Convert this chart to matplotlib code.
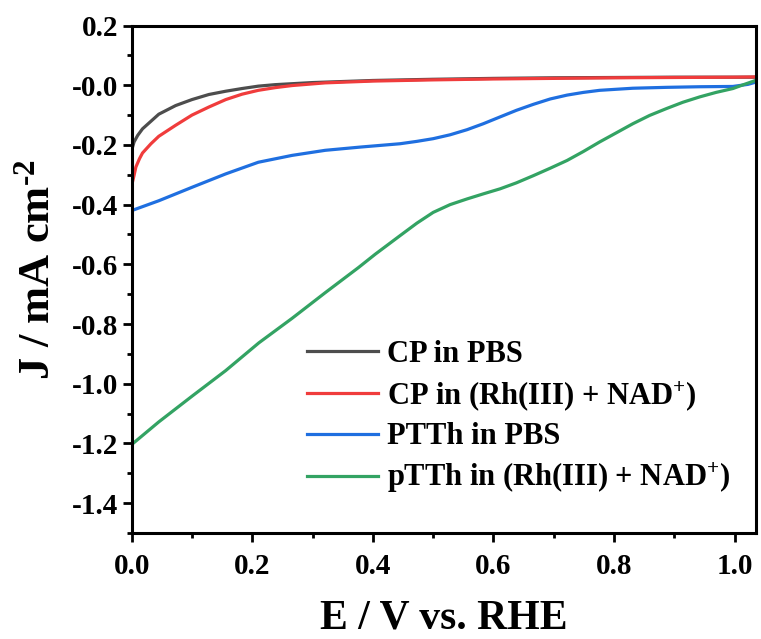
import numpy as np
import matplotlib.pyplot as plt

# LSV curves (E in V vs. RHE, J in mA cm^-2)
cp_pbs_E = [0, 0.004, 0.01, 0.018, 0.045, 0.073, 0.10, 0.128, 0.156, 0.183, 0.21, 0.238,
            0.30, 0.40, 0.50, 0.60, 0.70, 0.80, 0.90, 1.0, 1.036]
cp_pbs_J = [-0.218, -0.19, -0.168, -0.146, -0.097, -0.068, -0.048, -0.031, -0.02, -0.011, -0.003, 0.002,
            0.009, 0.016, 0.02, 0.023, 0.025, 0.026, 0.027, 0.027, 0.027]

cp_rh_E = [0, 0.004, 0.007, 0.013, 0.018, 0.032, 0.045, 0.073, 0.10, 0.128, 0.156, 0.183, 0.21,
           0.238, 0.266, 0.321, 0.40, 0.50, 0.60, 0.70, 0.80, 0.90, 1.0, 1.036]
cp_rh_J = [-0.336, -0.302, -0.274, -0.246, -0.227, -0.196, -0.171, -0.134, -0.10, -0.073, -0.048, -0.03, -0.017,
           -0.008, -0.001, 0.008, 0.014, 0.018, 0.021, 0.023, 0.025, 0.026, 0.027, 0.028]

ptth_pbs_E = [0, 0.045, 0.10, 0.156, 0.21, 0.266, 0.321, 0.38, 0.445, 0.473, 0.50, 0.528, 0.556,
              0.583, 0.611, 0.638, 0.666, 0.694, 0.722, 0.749, 0.776, 0.831, 0.887, 0.942, 0.997, 1.022, 1.036]
ptth_pbs_J = [-0.42, -0.387, -0.342, -0.297, -0.258, -0.235, -0.218, -0.207, -0.196, -0.188, -0.179, -0.166, -0.149,
              -0.129, -0.106, -0.084, -0.064, -0.046, -0.033, -0.024, -0.017, -0.010, -0.007, -0.005, -0.004, 0.003, 0.011]

ptth_rh_E = [0, 0.045, 0.10, 0.156, 0.211, 0.266, 0.321, 0.376, 0.404, 0.445, 0.473, 0.50, 0.528,
             0.556, 0.583, 0.611, 0.638, 0.666, 0.694, 0.722, 0.749, 0.776, 0.804, 0.831, 0.859,
             0.887, 0.914, 0.942, 0.969, 0.997, 1.016, 1.036]
ptth_rh_J = [-1.204, -1.128, -1.042, -0.956, -0.863, -0.781, -0.695, -0.611, -0.566, -0.504, -0.462, -0.426, -0.40,
             -0.381, -0.364, -0.347, -0.327, -0.303, -0.278, -0.252, -0.222, -0.19, -0.159, -0.129, -0.101,
             -0.078, -0.057, -0.039, -0.024, -0.011, 0.003, 0.017]

labels = ['CP in PBS',
          r'CP in (Rh(III) + NAD$^{+}$)',
          'PTTh in PBS',
          r'pTTh in (Rh(III) + NAD$^{+}$)']
colors = ['#4d4d4d', '#f03c3c', '#1f6fe0', '#33a363']

plt.rcParams['font.family'] = 'Liberation Serif'
plt.rcParams['font.weight'] = 'bold'
plt.rcParams['mathtext.fontset'] = 'custom'
plt.rcParams['mathtext.rm'] = 'Liberation Serif:bold'
plt.rcParams['mathtext.bf'] = 'Liberation Serif:bold'
plt.rcParams['mathtext.default'] = 'bf'
plt.rcParams['axes.unicode_minus'] = False

fig = plt.figure(figsize=(7.61, 6.39), dpi=100)
ax = fig.add_axes([0.173, 0.166, 0.821, 0.794])

series = [(cp_pbs_E, cp_pbs_J), (cp_rh_E, cp_rh_J),
          (ptth_pbs_E, ptth_pbs_J), (ptth_rh_E, ptth_rh_J)]
for (e, j), lab, c in zip(series, labels, colors):
    ax.plot(e, j, color=c, lw=2.3, label=lab)

ax.set_xlim(0, 1.036)
ax.set_ylim(-1.5, 0.2)
ax.set_xticks(np.arange(0, 1.01, 0.2))
ax.set_xticks(np.arange(0.1, 1.01, 0.2), minor=True)
ax.set_yticks(np.arange(-1.4, 0.21, 0.2))
ax.set_yticks(np.arange(-1.5, 0.21, 0.1), minor=True)
ax.xaxis.set_major_formatter(plt.FormatStrFormatter('%.1f'))
ax.yaxis.set_major_formatter(plt.FormatStrFormatter('%.1f'))
ax.tick_params(which='major', length=6.5, width=2, labelsize=21)
ax.tick_params(axis='x', which='major', pad=8)
ax.tick_params(axis='y', which='major', pad=3)
ax.tick_params(which='minor', length=3.5, width=2)
for s in ax.spines.values():
    s.set_linewidth(2.2)

ax.set_xlabel('E / V vs. RHE', fontsize=30, fontweight='bold', labelpad=14)
ax.set_ylabel('J / mA cm$^{\u20102}$', fontsize=32, fontweight='bold')
ax.yaxis.set_label_coords(-0.118, 0.52)

ax.legend(loc='upper left', bbox_to_anchor=(0.281, 0.38), frameon=False,
          fontsize=22, handlelength=2.32, handletextpad=0.29, labelspacing=0.32,
          borderpad=0, borderaxespad=0)

fig.savefig('out.png', dpi=100)
